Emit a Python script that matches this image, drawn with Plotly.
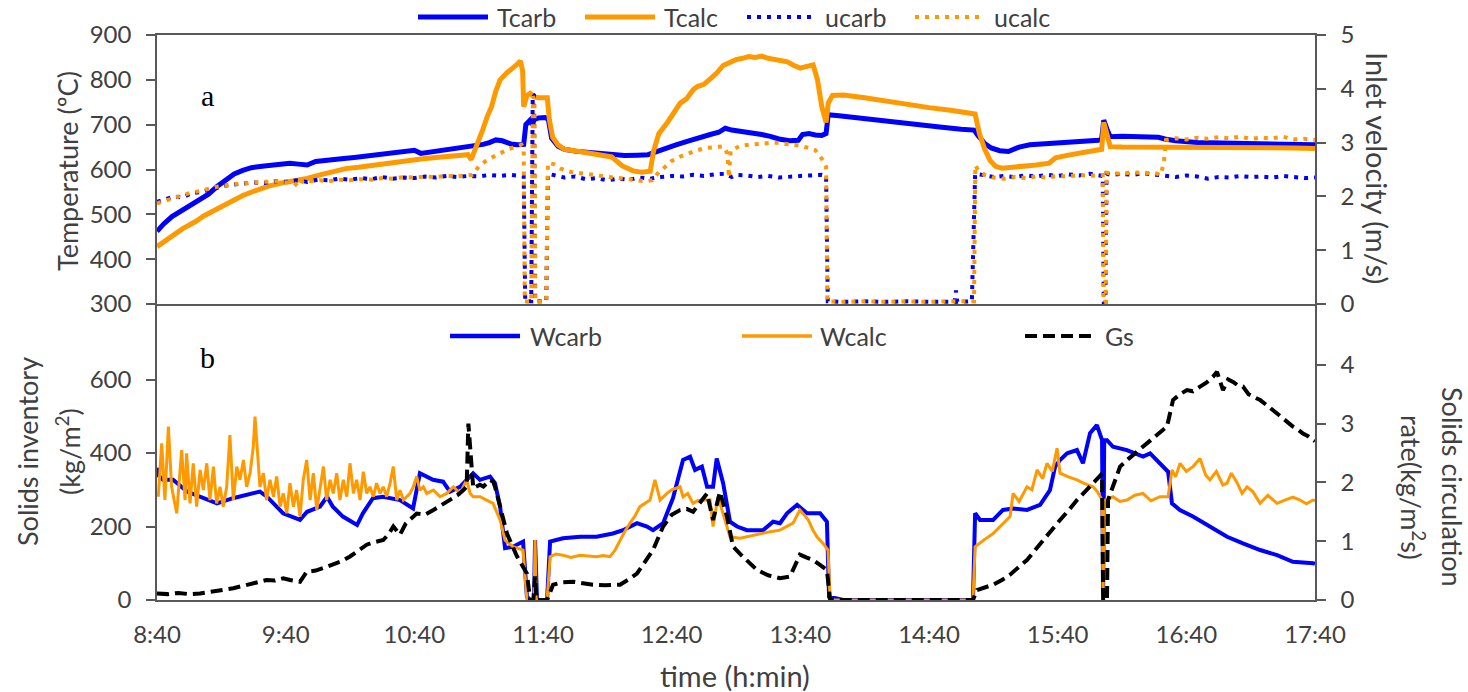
import plotly.graph_objects as go

# ---------------------------------------------------------------- data
# time is expressed in minutes elapsed since 8:40
TIME_TICKS = [0, 60, 120, 180, 240, 300, 360, 420, 480, 540]
TIME_LABELS = ["8:40", "9:40", "10:40", "11:40", "12:40", "13:40",
               "14:40", "15:40", "16:40", "17:40"]

# (a) carbonator / calciner temperatures, ºC
T_CARB_TIME = [0, 3, 7, 12, 18, 24, 28, 32, 36, 40, 44, 50, 56, 62, 66, 70, 74, 80, 86, 92,
               98, 104, 110, 116, 120, 123, 126, 132, 138, 144, 148, 152, 155, 158, 161, 165, 168, 171, 172, 173,
               174, 175, 176, 178, 181, 182.5, 184, 187, 190, 195, 200, 206, 212, 218, 224, 229, 233, 237, 242, 248,
               253, 258, 262, 265, 268, 272, 277, 282, 286, 290, 295, 299, 301, 304, 307, 310, 312, 313, 318, 325,
               335, 345, 355, 365, 375, 381, 383, 386, 389, 393, 397, 402, 407, 415, 425, 435, 439, 440.5, 441.5, 443,
               444.5, 450, 460, 467, 470, 475, 485, 500, 515, 530, 540]
T_CARB = [462, 478, 495, 510, 525, 545, 562, 577, 590, 598, 604, 608, 611, 614, 612, 610, 618, 622, 624, 627,
          630, 634, 638, 641, 643, 636, 638, 642, 646, 650, 652, 656, 660, 666, 664, 657, 655, 656, 700, 706,
          710, 700, 712, 715, 716, 712, 670, 652, 645, 641, 639, 635, 632, 631, 632, 633, 640, 648, 655, 664,
          672, 678, 683, 692, 688, 685, 684, 678, 674, 668, 664, 665, 678, 680, 677, 676, 680, 722, 720, 716,
          710, 705, 700, 695, 690, 688, 675, 658, 648, 642, 640, 650, 655, 658, 660, 663, 665, 668, 710, 690,
          673, 674, 673, 672, 668, 664, 660, 658, 657, 656, 655]

T_CALC_TIME = [0, 3, 7, 12, 18, 22, 28, 34, 40, 46, 52, 58, 64, 70, 76, 82, 88, 94, 100, 106,
               112, 118, 124, 130, 136, 142, 145, 146.5, 148, 150, 152, 154, 156, 158, 160, 163, 166, 168, 169.5, 170.5,
               171, 172.5, 174, 176, 178, 181, 182, 183, 184.5, 187, 190, 197, 205, 212, 217, 222, 226, 230, 231.5, 234,
               238, 241, 244, 247, 250, 252, 255, 258, 261, 264, 267, 270, 273, 276, 279, 282, 285, 288, 291, 294,
               297, 300, 303, 306, 308, 310, 312, 313, 315, 320, 330, 340, 350, 360, 370, 380, 381.5, 383.5, 386, 388.5,
               391, 394, 400, 405, 410, 416, 419, 425, 432, 439, 440.5, 441.5, 443, 444.5, 450, 460, 470, 480, 490, 500,
               515, 530, 540]
T_CALC = [428, 438, 452, 468, 484, 497, 512, 528, 542, 553, 563, 570, 575, 580, 588, 596, 602, 605, 609, 614,
          618, 621, 624, 627, 630, 632, 633, 622, 640, 662, 690, 718, 740, 775, 800, 815, 825, 835, 842, 820,
          740, 765, 770, 762, 760, 761, 760, 710, 672, 655, 645, 640, 635, 628, 608, 597, 594, 596, 640, 680,
          705, 725, 748, 758, 778, 785, 790, 802, 815, 832, 840, 845, 848, 852, 850, 853, 848, 845, 842, 840,
          832, 826, 830, 833, 800, 740, 705, 748, 765, 766, 760, 752, 744, 738, 732, 726, 724, 680, 645, 620,
          607, 603, 605, 608, 610, 614, 626, 632, 637, 642, 645, 705, 672, 651, 650, 650, 650, 650, 649, 649,
          648, 648, 647]

# (a) inlet gas velocities, m/s
U_CARB_TIME = [0, 4, 8, 12, 16, 20, 24, 28, 32, 36, 40,
               45, 50, 55, 60, 65, 70, 75, 80, 85, 90, 95, 100, 105, 110, 115, 120, 125, 130, 135, 140,
               145, 150, 155, 160, 165, 170,
               171, 171.7, 174.5, 175.2, 175.8, 176.3, 181.5, 182.3,
               185, 190, 195, 200, 205, 210, 215, 220, 225, 230, 235, 240, 245, 250, 255, 260, 265,
               268, 270, 275, 280, 285, 290, 295, 300, 305, 310,
               312, 312.8, 320, 330, 340, 350, 360, 372, 372.6, 373.2, 380, 381.5,
               385, 390, 395, 400, 405, 410, 415, 420, 425, 430, 435, 440,
               441, 441.5, 442.3, 442.8,
               445, 450, 455, 460, 465, 470, 475, 480, 485, 490, 495, 500, 505, 510, 515, 520, 525, 530, 535, 540]
U_CARB = [1.90, 1.95, 2.00, 1.98, 2.06, 2.08, 2.12, 2.16, 2.20, 2.22, 2.24,
          2.26, 2.25, 2.28, 2.27, 2.30, 2.27, 2.31, 2.30, 2.33, 2.31, 2.34, 2.32, 2.36, 2.33, 2.35, 2.34, 2.37, 2.35, 2.38, 2.36,
          2.38, 2.37, 2.40, 2.38, 2.40, 2.38,
          2.37, 0.05, 0.05, 3.90, 3.88, 0.05, 0.05, 2.42,
          2.40, 2.35, 2.37, 2.32, 2.34, 2.30, 2.33, 2.31, 2.35, 2.33, 2.36, 2.38, 2.37, 2.40, 2.38, 2.41, 2.42,
          2.36, 2.40, 2.39, 2.36, 2.38, 2.35, 2.37, 2.38, 2.39, 2.40,
          2.38, 0.05, 0.04, 0.05, 0.04, 0.05, 0.04, 0.04, 0.25, 0.04, 0.05, 2.42,
          2.40, 2.36, 2.38, 2.36, 2.39, 2.37, 2.40, 2.38, 2.41, 2.39, 2.42, 2.40,
          2.38, 0.03, 0.03, 2.42,
          2.40, 2.42, 2.40, 2.43, 2.41, 2.38, 2.36, 2.39, 2.37, 2.33, 2.36, 2.35, 2.38, 2.36, 2.37, 2.35, 2.38, 2.36, 2.34, 2.35]

U_CALC_TIME = [0, 4, 8, 12, 16, 20, 24, 28, 32, 36, 40, 45, 50, 55, 60, 64, 66, 68, 72, 76,
               80, 85, 90, 95, 100, 105, 110, 115, 120, 125, 130, 135, 140, 145, 147, 150, 153, 156, 160, 164,
               168, 170, 171, 171.5, 174.5, 175.3, 176, 176.5, 181.5, 182.3, 185, 188, 192, 197, 203, 208, 213, 218, 223, 228,
               231, 234, 237, 240, 244, 248, 252, 256, 260, 264, 266, 266.7, 267.5, 272, 276, 280, 284, 288, 292, 296,
               300, 304, 307, 310, 312, 312.6, 320, 330, 340, 350, 360, 370, 380, 381, 381.6, 383, 386, 390, 395, 400,
               405, 410, 415, 420, 425, 430, 435, 440, 441, 441.4, 442.4, 442.8, 445, 450, 455, 460, 465, 468, 469.5, 470.5,
               475, 480, 485, 490, 495, 500, 505, 510, 515, 520, 525, 530, 535, 540]
U_CALC = [1.87, 1.92, 1.98, 2.03, 2.07, 2.10, 2.14, 2.18, 2.20, 2.23, 2.24, 2.26, 2.27, 2.28, 2.27, 2.25, 2.18, 2.30, 2.28, 2.30,
          2.28, 2.31, 2.30, 2.32, 2.31, 2.34, 2.33, 2.36, 2.35, 2.37, 2.36, 2.38, 2.37, 2.38, 2.40, 2.55, 2.65, 2.72, 2.80, 2.88,
          2.93, 2.96, 2.90, 0.05, 0.04, 3.86, 3.80, 0.04, 0.05, 2.62, 2.60, 2.52, 2.46, 2.43, 2.40, 2.38, 2.35, 2.33, 2.30, 2.28,
          2.30, 2.45, 2.55, 2.66, 2.74, 2.80, 2.86, 2.90, 2.92, 2.93, 2.80, 2.35, 2.85, 2.94, 2.96, 2.97, 2.99, 3.00, 2.98, 2.96,
          2.94, 2.90, 2.86, 2.70, 2.55, 0.05, 0.04, 0.05, 0.04, 0.05, 0.04, 0.05, 0.04, 0.05, 2.58, 2.48, 2.40, 2.35, 2.33, 2.36,
          2.34, 2.37, 2.35, 2.38, 2.37, 2.40, 2.38, 2.41, 2.40, 0.03, 0.03, 2.44, 2.43, 2.42, 2.45, 2.43, 2.44, 2.40, 2.62, 3.05,
          3.08, 3.06, 3.09, 3.07, 3.10, 3.08, 3.11, 3.07, 3.09, 3.08, 3.11, 3.06, 3.07, 3.05]

# (b) solids inventories, kg/m2
W_CARB_TIME = [0, 0.5, 2.8, 7.5, 14, 20, 28, 35.4, 43.4, 48, 51.3, 58.8, 66.7, 70, 76, 79.3, 82, 86.7, 93.3, 96,
               100.7, 105.4, 113.3, 119.4, 122.6, 128.7, 133.4, 136.6, 141.3, 147.4, 150.6, 155.3, 157.6, 160, 162.3, 166, 170.7, 172.5, 174, 175.8,
               176.3, 176.8, 177.2, 181.9, 183.3, 189.3, 197.3, 205, 212.6, 217.3, 223.8, 228.5, 231.3, 236, 240.6, 245.3, 248.6, 250.9, 254.1, 256.5,
               259.3, 261, 264, 267.2, 270.5, 275.1, 282.6, 287.3, 290.5, 293.8, 298.5, 303.1, 309.2, 312.4, 313.4, 320, 340, 360, 380.5, 381.5,
               383.8, 389.9, 394.5, 399.2, 405.7, 411.8, 416.4, 418.8, 421.1, 424.4, 429, 431.8, 435.1, 438.3, 440.7, 441.2, 441.7, 443, 445.8, 452.3,
               459.8, 463.1, 467.7, 471.5, 473.3, 477, 483.1, 491, 499, 506.4, 514.4, 522.3, 529.7, 539.1, 540]
W_CARB = [360, 340, 327, 327, 295, 281, 263, 277, 290, 295, 281, 236, 218, 240, 254, 281, 254, 227, 204, 236,
          277, 281, 272, 249, 345, 327, 322, 295, 308, 345, 327, 336, 318, 254, 141, 145, 159, 9, 0, 0,
          163, 0, 0, 0, 159, 168, 172, 172, 181, 190, 209, 200, 190, 209, 277, 381, 390, 354, 363, 308,
          308, 385, 318, 213, 200, 190, 190, 213, 209, 236, 259, 236, 236, 213, 9, 0, 0, 0, 0, 236,
          218, 218, 245, 249, 245, 259, 299, 363, 381, 399, 408, 372, 454, 476, 435, 18, 435, 435, 417, 408,
          390, 399, 372, 349, 263, 245, 227, 200, 172, 154, 136, 122, 104, 100, 98]

W_CALC_TIME = [0.6, 2.2, 3.7, 5.3, 6.8, 9.2, 11.5, 13.1, 13.8, 15.4, 16.9, 18.5, 20.1, 21.6, 23.2, 24.7, 26.3, 27.8, 29.4, 30.9,
               32.5, 34.0, 35.6, 37.2, 38.7, 40.3, 41.8, 43.4, 44.9, 45.7, 46.8, 48.0, 49.6, 51.1, 52.7, 54.3, 55.8, 57.4, 58.9, 60.5,
               62.0, 63.6, 65.1, 66.7, 68.2, 69.8, 71.4, 72.9, 74.5, 76.0, 77.6, 79.1, 80.7, 82.2, 83.8, 85.3, 86.9, 88.5, 90.0, 91.6,
               93.1, 94.7, 96.2, 97.8, 99.3, 100.9, 102.4, 104.0, 105.5, 107.1, 108.7, 110.2, 111.8, 113.3, 114.9, 116.4, 118.0, 119.5, 121.1, 122.6,
               124.2, 125.8, 128.9, 132.0, 135.1, 138.2, 141.3, 144.4, 146.0, 147.5, 150.6,
               153.7, 156.7, 160, 162.3, 166, 170.7, 172.5, 174, 175.8, 176.3, 176.8, 177.2, 181.9, 183.3, 186, 189.3, 193, 197.3, 201, 205,
               208, 211.2, 213.5, 215.9, 218, 220.6, 223, 225.2, 227.5, 229.9, 232.2, 234.6, 237.8, 240, 243.9, 245.3, 247.5, 250, 252, 254.6,
               257.9, 259.3, 261.6, 264, 267.2, 271.9, 277, 282.6, 286, 290.5, 293, 296.6, 299.8, 303.7, 305.9, 308, 310.6, 312.9, 313.9,
               320, 340, 360, 380, 380.5,
               381.5, 383.8, 386, 389.9, 393, 395.5, 397.8, 399.2, 402, 405.7, 408, 410.4, 413, 415, 417.5, 419.7, 421.1, 425, 429, 432,
               436.5, 438.5, 440.7, 441.2, 441.7, 443, 445.8, 449, 452.3, 456, 459.8, 463.5, 467.7, 471.5, 473.3, 475, 477.1, 480, 483.1, 486.4,
               489, 491, 494, 497, 499, 501, 503.6, 506, 508.3, 511, 514.4, 518, 522.3, 526, 529.7, 533, 536, 539.1, 540]
W_CALC = [281, 426, 272, 472, 308, 236, 408, 272, 399, 263, 372, 254, 354, 299, 372, 272, 363, 263, 308, 254,
          308, 449, 272, 363, 327, 381, 308, 345, 417, 499, 408, 308, 345, 272, 327, 281, 336, 254, 290, 236,
          318, 254, 299, 227, 327, 381, 272, 345, 245, 308, 363, 272, 327, 290, 345, 272, 327, 281, 372, 290,
          327, 272, 349, 290, 308, 281, 318, 290, 308, 281, 318, 363, 272, 299, 272, 281, 290, 308, 336, 299,
          308, 290, 299, 281, 290, 308, 290, 327, 290, 281, 281,
          272, 263, 218, 163, 145, 136, 0, 0, 0, 163, 0, 0, 0, 118, 125, 122, 116, 122, 120, 118,
          121, 118, 135, 163, 185, 209, 230, 254, 262, 272, 327, 272, 290, 300, 308, 281, 290, 263, 270, 272,
          272, 200, 281, 236, 172, 168, 175, 181, 186, 190, 197, 209, 245, 218, 190, 170, 154, 136, 0,
          0, 0, 0, 0, 0,
          145, 154, 165, 181, 200, 213, 227, 290, 268, 308, 300, 354, 330, 372, 350, 413, 345, 335, 327, 318,
          308, 295, 272, 18, 272, 272, 281, 268, 272, 285, 290, 270, 281, 281, 354, 335, 372, 350, 363, 385,
          340, 327, 350, 313, 318, 345, 320, 290, 308, 295, 263, 285, 263, 272, 280, 272, 262, 272, 270]

# (b) solids circulation rate, kg/m2 s
GS_TIME = [0, 5, 10, 15, 20, 26, 32, 35.6, 40, 45, 51.1, 55, 58.9, 62, 66.7, 69.8, 74, 78, 82.2, 86,
           90, 94, 97.8, 101, 105.5, 108, 110.2, 113.3, 116, 121.1, 125, 128.9, 133, 136.6, 140, 142.9, 144.4, 145.2, 146, 146.7,
           147.5, 150.6, 152.2, 155.3, 156.8, 157.6, 160, 163.2, 167.9, 172.5, 174, 175.5, 176.3, 177, 177.7, 181.9, 184.7, 189, 194, 198,
           203.3, 209, 215.9, 220, 223.8, 227, 231.3, 236, 240, 243.9, 247, 250, 253, 256.5, 259.3, 262.5, 265.8, 268.6, 272, 275.1,
           279.8, 285, 290.5, 295.2, 299.8, 303, 305.9, 309, 312.4, 313.9, 330, 350, 370, 380.5, 382.4, 386, 389.9, 394, 397.8, 401.5,
           405.7, 409.5, 413.2, 417, 421.1, 425, 429, 433, 436.5, 440.7, 441.2, 443, 443.5, 445.8, 449.1, 453, 457, 461.7, 464.5, 467.7,
           471, 473.8, 477, 480.3, 483, 486.4, 489.5, 492.5, 494.3, 497.1, 499.5, 501.8, 504, 506.4, 509, 511.1, 514.4, 518, 522.3, 526,
           529.7, 532, 534.4, 537, 539.1, 540]
GS = [0.11, 0.10, 0.12, 0.10, 0.11, 0.14, 0.18, 0.20, 0.24, 0.28, 0.34, 0.33, 0.37, 0.34, 0.31, 0.48, 0.50, 0.55, 0.60, 0.66,
      0.74, 0.84, 0.94, 0.98, 1.02, 1.12, 1.25, 1.11, 1.30, 1.47, 1.45, 1.53, 1.62, 1.70, 1.78, 1.87, 1.93, 3.00, 2.50, 2.27,
      1.90, 1.96, 1.93, 2.04, 2.01, 1.93, 1.59, 1.13, 0.74, 0.45, 0.00, 0.00, 0.40, 0.00, 0.00, 0.00, 0.26, 0.30, 0.31, 0.29,
      0.26, 0.25, 0.26, 0.35, 0.45, 0.62, 0.85, 1.25, 1.45, 1.53, 1.55, 1.50, 1.65, 1.81, 1.36, 1.84, 1.42, 0.91, 0.78, 0.68,
      0.51, 0.42, 0.37, 0.40, 0.77, 0.72, 0.68, 0.60, 0.51, 0.00, 0.00, 0.00, 0.00, 0.00, 0.17, 0.22, 0.26, 0.34, 0.43, 0.55,
      0.68, 0.85, 1.02, 1.18, 1.36, 1.52, 1.70, 1.85, 1.98, 2.15, 0.00, 0.00, 1.70, 1.93, 2.27, 2.40, 2.52, 2.66, 2.74, 2.83,
      2.95, 3.40, 3.50, 3.57, 3.55, 3.63, 3.70, 3.80, 3.88, 3.57, 3.75, 3.71, 3.65, 3.63, 3.50, 3.46, 3.40, 3.30, 3.17, 3.05,
      2.95, 2.90, 2.83, 2.78, 2.72, 2.70]

for _t, _v in [(T_CARB_TIME, T_CARB), (T_CALC_TIME, T_CALC), (U_CARB_TIME, U_CARB),
               (U_CALC_TIME, U_CALC), (W_CARB_TIME, W_CARB), (W_CALC_TIME, W_CALC), (GS_TIME, GS)]:
    assert len(_t) == len(_v), (len(_t), len(_v))

# ---------------------------------------------------------------- styling
BLUE = "#0000FF"
ORANGE = "#FF9900"
BLACK = "#000000"
AXIS = "#595959"
TEXT = "#404040"
FONT = "Lato"

W, H = 1468, 692
L, R, T, B = 157, 153, 35, 92          # plot-area margins (px)
PW, PH = W - L - R, H - T - B


def px_x(px):
    return (px - L) / PW


def px_y(py):
    return (H - B - py) / PH


fig = go.Figure()

# panel a: temperatures (left axis) and inlet velocities (right axis)
fig.add_trace(go.Scatter(x=T_CARB_TIME, y=T_CARB, mode="lines", name="Tcarb",
                         line=dict(color=BLUE, width=5), xaxis="x", yaxis="y"))
fig.add_trace(go.Scatter(x=T_CALC_TIME, y=T_CALC, mode="lines", name="Tcalc",
                         line=dict(color=ORANGE, width=5), xaxis="x", yaxis="y"))
fig.add_trace(go.Scatter(x=U_CARB_TIME, y=U_CARB, mode="lines", name="ucarb",
                         line=dict(color=BLUE, width=4, dash="4px,6px"), xaxis="x", yaxis="y2"))
fig.add_trace(go.Scatter(x=U_CALC_TIME, y=U_CALC, mode="lines", name="ucalc",
                         line=dict(color=ORANGE, width=4, dash="4px,6px"), xaxis="x", yaxis="y2"))

# panel b: inventories (left axis) and circulation rate (right axis)
fig.add_trace(go.Scatter(x=W_CARB_TIME, y=W_CARB, mode="lines", name="Wcarb",
                         line=dict(color=BLUE, width=4), xaxis="x2", yaxis="y3"))
fig.add_trace(go.Scatter(x=W_CALC_TIME, y=W_CALC, mode="lines", name="Wcalc",
                         line=dict(color=ORANGE, width=3), xaxis="x2", yaxis="y3"))
fig.add_trace(go.Scatter(x=GS_TIME, y=GS, mode="lines", name="Gs",
                         line=dict(color=BLACK, width=4, dash="12px,6px"), xaxis="x2", yaxis="y4"))

TICK_SIZE = 24
axis_common = dict(showgrid=False, zeroline=False, showline=True, linecolor=AXIS, linewidth=1.5,
                   tickfont=dict(family=FONT, size=TICK_SIZE, color=TEXT))
y_common = dict(axis_common, ticks="outside", ticklen=9, tickwidth=1.5, tickcolor=AXIS,
                ticklabelstandoff=10)

top_dom = [px_y(304), 1.0]
bot_dom = [0.0, px_y(306)]

fig.update_layout(
    width=W, height=H, autosize=False,
    margin=dict(l=L, r=R, t=T, b=B, pad=0),
    paper_bgcolor="white", plot_bgcolor="white",
    showlegend=False,
    font=dict(family=FONT, color=TEXT, size=TICK_SIZE),
    xaxis=dict(axis_common, domain=[0, 1], anchor="y", range=[0, 540], mirror=True,
               showticklabels=False, ticks=""),
    yaxis=dict(y_common, domain=top_dom, anchor="x", range=[300, 900],
               tickvals=[300, 400, 500, 600, 700, 800, 900]),
    yaxis2=dict(y_common, overlaying="y", side="right", anchor="x", range=[0, 5],
                tickvals=[0, 1, 2, 3, 4, 5]),
    xaxis2=dict(axis_common, domain=[0, 1], anchor="y3", range=[0, 540], mirror=True,
                tickvals=TIME_TICKS, ticktext=TIME_LABELS, ticks="", ticklabelstandoff=12),
    yaxis3=dict(y_common, domain=bot_dom, anchor="x2", range=[0, 800],
                tickvals=[0, 200, 400, 600]),
    yaxis4=dict(y_common, overlaying="y3", side="right", anchor="x2", range=[0, 5],
                tickvals=[0, 1, 2, 3, 4]),
)

# ---------------------------------------------------------------- titles
notes = [
    ("Temperature (ºC)", 67, 171, -90, 27),
    ("Inlet velocity (m/s)", 1378, 168, 90, 29),
    ("Solids inventory", 28, 452, -90, 27),
    ("(kg/m<sup>2</sup>)", 68, 452, -90, 27),
    ("Solids circulation", 1453, 487, 90, 27),
    ("rate(kg/m<sup>2</sup>s)", 1413, 487, 90, 27),
    ("time (h:min)", 735, 675, 0, 29),
]
for text, x, y, ang, size in notes:
    fig.add_annotation(text=text, x=px_x(x), y=px_y(y), xref="paper", yref="paper",
                       showarrow=False, textangle=ang,
                       font=dict(family=FONT, size=size, color=TEXT),
                       xanchor="center", yanchor="middle")

for text, y in [("a", 95), ("b", 357)]:
    fig.add_annotation(text=text, x=px_x(207), y=px_y(y), xref="paper", yref="paper",
                       showarrow=False, font=dict(family="Liberation Serif", size=30, color="#000000"),
                       xanchor="center", yanchor="middle")

# ---------------------------------------------------------------- legends
legend_items = [
    ("Tcarb", BLUE, "solid", 5, 418, 488, 495, 17),
    ("Tcalc", ORANGE, "solid", 5, 585, 655, 662, 17),
    ("ucarb", BLUE, "4px,6px", 4, 747, 813, 823, 17),
    ("ucalc", ORANGE, "4px,6px", 4, 915, 980, 992, 17),
    ("Wcarb", BLUE, "solid", 4.5, 450, 520, 528, 336),
    ("Wcalc", ORANGE, "solid", 3.5, 742, 812, 818, 336),
    ("Gs", BLACK, "12px,6px", 4, 1025, 1097, 1103, 336),
]
for name, color, dash, width, x0, x1, xt, y in legend_items:
    fig.add_shape(type="line", xref="paper", yref="paper",
                  x0=px_x(x0), x1=px_x(x1), y0=px_y(y), y1=px_y(y),
                  line=dict(color=color, width=width, dash=dash))
    fig.add_annotation(text=name, x=px_x(xt), y=px_y(y), xref="paper", yref="paper",
                       showarrow=False, xanchor="left", yanchor="middle",
                       font=dict(family=FONT, size=25, color=TEXT))

fig.write_html("out.html")
